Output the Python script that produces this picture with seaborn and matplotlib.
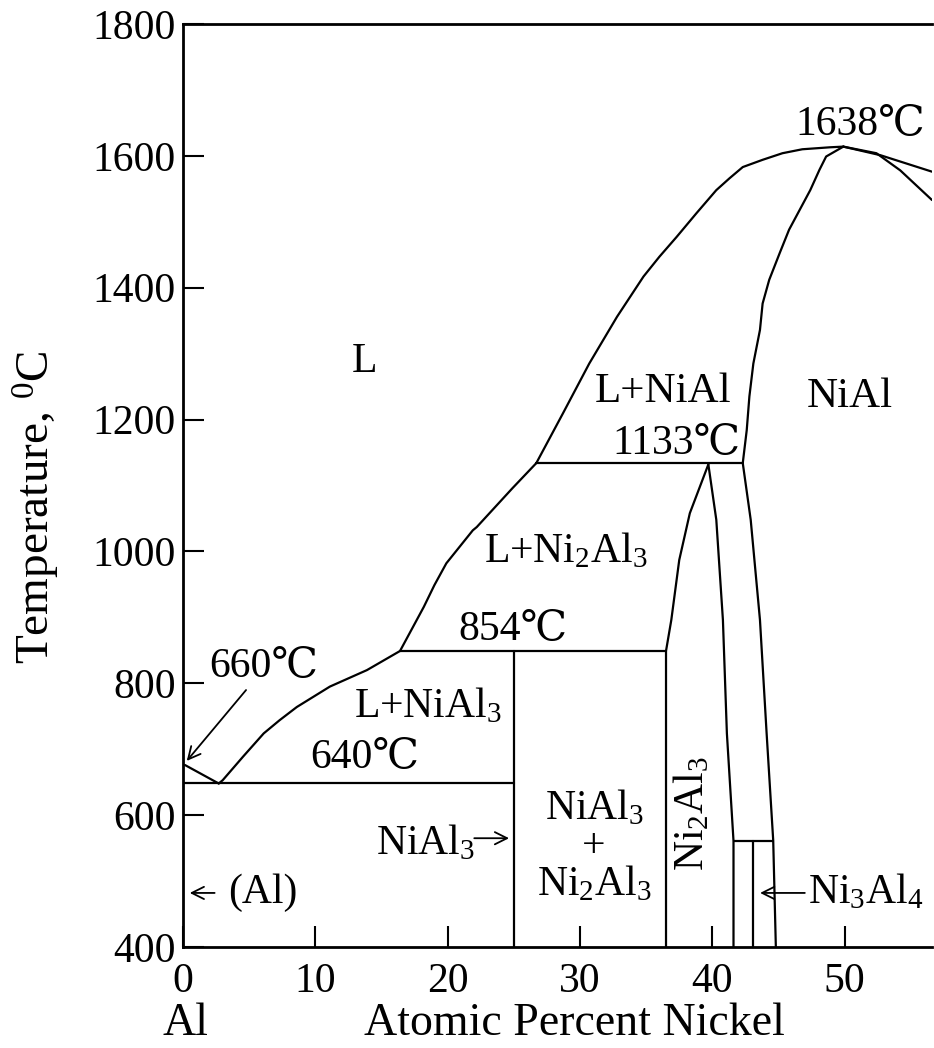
import matplotlib
matplotlib.use("Agg")
import matplotlib.pyplot as plt
import seaborn as sns
import pandas as pd
import numpy as np

# ---- phase boundaries (x = at.% Ni, T = deg C) ----
al_liq_x = [0.15, 2.7]
al_liq_T = [676, 648]

liq_nial3_x = [2.7, 3.0, 4.55, 6.1, 7.3, 8.6, 11.1, 13.9, 16.4]
liq_nial3_T = [648, 653, 689, 724, 744, 764, 795, 820, 849]

liq_ni2al3_x = [16.4, 18.2, 19.0, 19.9, 21.9, 22.2, 24.9, 26.7]
liq_ni2al3_T = [849, 916, 949, 982, 1032, 1037, 1096, 1134]

liq_nial_x = [26.7, 28.7, 30.7, 32.8, 34.8, 36.0, 37.3, 38.8, 40.3, 41.3, 42.3, 43.8,
              45.3, 46.8, 48.9, 49.9]
liq_nial_T = [1134, 1209, 1285, 1356, 1417, 1447, 1477, 1513, 1548, 1566, 1583, 1594,
              1604, 1610, 1613, 1614]

liq_right_x = [49.9, 52.7, 56.6]
liq_right_T = [1614, 1601, 1576]

nial_left_x = [49.9, 48.6, 48.1, 47.4, 45.8, 45.1, 44.3, 43.8, 43.6, 43.1, 42.8, 42.6,
               42.3, 42.9, 43.6, 44.1, 44.6, 44.8]
nial_left_T = [1614, 1599, 1579, 1548, 1488, 1453, 1412, 1376, 1336, 1285, 1235, 1184,
               1134, 1048, 896, 725, 562, 400]

nial_right_x = [49.9, 52.4, 54.2, 56.6]
nial_right_T = [1614, 1604, 1578, 1533]

ni2al3_left_x = [36.5, 36.5, 36.9, 37.5, 38.3, 39.7]
ni2al3_left_T = [400, 849, 896, 987, 1058, 1132]

ni2al3_right_x = [39.7, 40.3, 40.8, 41.1, 41.6, 41.6]
ni2al3_right_T = [1132, 1048, 896, 724, 561, 400]

# invariant lines
eut_640_x, eut_640_T = [0, 25], [648, 648]
per_854_x, per_854_T = [16.4, 36.5], [849, 849]
per_1133_x, per_1133_T = [26.7, 42.3], [1134, 1134]
nial3_x, nial3_T = [25, 25], [400, 849]
ni3al4_top_x, ni3al4_top_T = [41.6, 44.6], [561, 561]
ni3al4_x, ni3al4_T = [43.1, 43.1], [400, 561]

segments = {
    "al_liq": (al_liq_x, al_liq_T),
    "liq_nial3": (liq_nial3_x, liq_nial3_T),
    "liq_ni2al3": (liq_ni2al3_x, liq_ni2al3_T),
    "liq_nial": (liq_nial_x, liq_nial_T),
    "liq_right": (liq_right_x, liq_right_T),
    "nial_left": (nial_left_x, nial_left_T),
    "nial_right": (nial_right_x, nial_right_T),
    "ni2al3_left": (ni2al3_left_x, ni2al3_left_T),
    "ni2al3_right": (ni2al3_right_x, ni2al3_right_T),
    "eut_640": (eut_640_x, eut_640_T),
    "per_854": (per_854_x, per_854_T),
    "per_1133": (per_1133_x, per_1133_T),
    "nial3": (nial3_x, nial3_T),
    "ni3al4_top": (ni3al4_top_x, ni3al4_top_T),
    "ni3al4": (ni3al4_x, ni3al4_T),
}

x_ticks = [0, 10, 20, 30, 40, 50]
y_ticks = [400, 600, 800, 1000, 1200, 1400, 1600, 1800]

rows = []
for name, (xs, ts) in segments.items():
    for i, (xv, tv) in enumerate(zip(xs, ts)):
        rows.append({"seg": name, "order": i, "x": xv, "T": tv})
df = pd.DataFrame(rows)

sns.set_style("ticks")
plt.rcParams['font.family'] = ['Liberation Serif', 'DejaVu Serif', 'Noto Sans CJK SC']
plt.rcParams['mathtext.fontset'] = 'custom'
plt.rcParams['mathtext.rm'] = 'Liberation Serif'
plt.rcParams['mathtext.it'] = 'Liberation Serif:italic'
plt.rcParams['mathtext.bf'] = 'Liberation Serif:bold'
plt.rcParams['text.color'] = 'black'
plt.rcParams['axes.labelcolor'] = 'black'
plt.rcParams['xtick.color'] = 'black'
plt.rcParams['ytick.color'] = 'black'

fig = plt.figure(figsize=(9.34, 10.48), dpi=100)
ax = fig.add_axes([183 / 934, 101 / 1048, 749 / 934, 923 / 1048])

sns.lineplot(data=df, x="x", y="T", units="seg", estimator=None, sort=False,
             color="black", linewidth=1.6, ax=ax)

ax.set_xlim(0, 56.6)
ax.set_ylim(400, 1800)
ax.set_xticks(x_ticks)
ax.set_yticks(y_ticks)
ax.tick_params(direction="in", length=15, width=1.5, labelsize=30, colors="black")
ax.tick_params(axis="x", pad=11)
ax.tick_params(axis="y", pad=5)
for s in ["left", "top", "bottom"]:
    ax.spines[s].set_linewidth(2)
    ax.spines[s].set_color("black")
ax.spines["right"].set_visible(False)

ax.set_xlabel("Atomic Percent Nickel", fontsize=33, va="center")
ax.xaxis.set_label_coords(0.523, -0.0835)
ax.set_ylabel(r"Temperature, $^\mathrm{0}$C", fontsize=34)
ax.yaxis.set_label_coords(-0.1615, 0.477)
ax.text(0.15, 283, "Al", fontsize=33, ha="center", va="center", clip_on=False)

# region / temperature labels
fs = 30
ax.text(51.2, 1647, "1638\u2103", fontsize=fs, ha="center", va="center")
ax.text(13.7, 1288, "L", fontsize=fs, ha="center", va="center")
ax.text(36.3, 1242, "L+NiAl", fontsize=31, ha="center", va="center")
ax.text(37.3, 1164, "1133\u2103", fontsize=fs, ha="center", va="center")
ax.text(50.4, 1235, "NiAl", fontsize=31, ha="center", va="center")
ax.text(28.9, 984, r"L+Ni$_\mathrm{2}$Al$_\mathrm{3}$", fontsize=fs, ha="center", va="baseline")
ax.text(24.9, 881, "854\u2103", fontsize=fs, ha="center", va="center")
ax.text(6.1, 825, "660\u2103", fontsize=fs, ha="center", va="center")
ax.text(18.5, 749, r"L+NiAl$_\mathrm{3}$", fontsize=fs, ha="center", va="baseline")
ax.text(13.7, 687, "640\u2103", fontsize=fs, ha="center", va="center")
ax.text(18.3, 540, r"NiAl$_\mathrm{3}$", fontsize=fs, ha="center", va="baseline")
ax.text(6.0, 482, "(Al)", fontsize=fs, ha="center", va="center")
ax.text(31.1, 593, r"NiAl$_\mathrm{3}$", fontsize=fs, ha="center", va="baseline")
ax.text(31.0, 552, "+", fontsize=fs, ha="center", va="center")
ax.text(31.1, 479, r"Ni$_\mathrm{2}$Al$_\mathrm{3}$", fontsize=fs, ha="center", va="baseline")
ax.text(38.5, 603, r"Ni$_\mathrm{2}$Al$_\mathrm{3}$", fontsize=fs, ha="center", va="center",
        rotation=90)
ax.text(51.6, 467, r"Ni$_\mathrm{3}$Al$_\mathrm{4}$", fontsize=fs, ha="center", va="baseline")

# arrows
arrow = dict(arrowstyle="->", color="black", lw=1.3, mutation_scale=22)
ax.annotate("", xy=(0.15, 679), xytext=(4.9, 793), arrowprops=arrow)
ax.annotate("", xy=(24.85, 565), xytext=(21.8, 565), arrowprops=arrow)
ax.annotate("", xy=(0.3, 482), xytext=(2.6, 482), arrowprops=arrow)
ax.annotate("", xy=(43.4, 482), xytext=(47.2, 482), arrowprops=arrow)

fig.savefig("out.png", dpi=100, facecolor="white")
